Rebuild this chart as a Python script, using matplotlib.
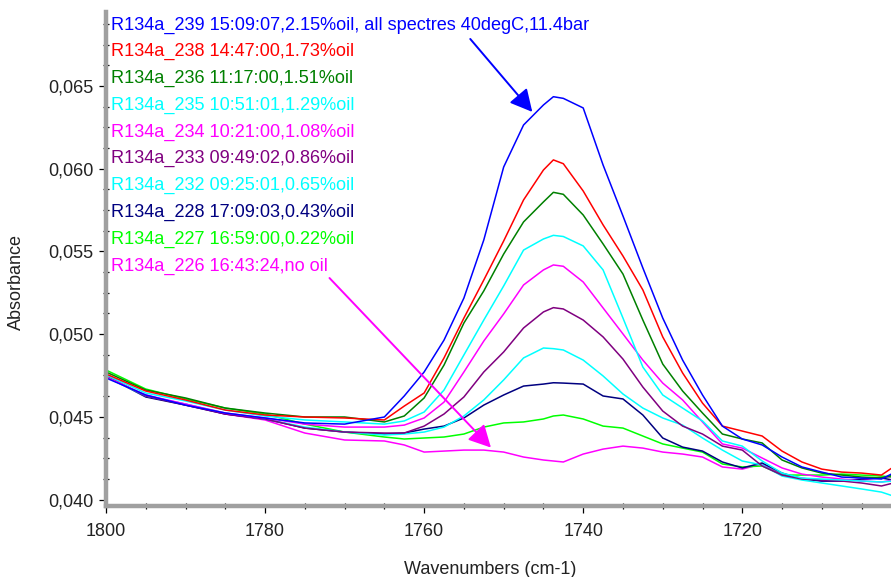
#Load libraries ---------------------------------------------------------------
import matplotlib
matplotlib.use("Agg")
import matplotlib.pyplot as plt
from matplotlib.ticker import MultipleLocator, FuncFormatter

#Data -------------------------------------------------------------------------
wavenumber = [1800, 1795, 1790, 1785, 1780, 1775, 1770, 1765, 1762.5, 1760,
              1757.5, 1755, 1752.5, 1750, 1747.5, 1745, 1743.75, 1742.5, 1740, 1737.5,
              1735, 1732.5, 1730, 1727.5, 1725, 1722.5, 1720, 1717.5, 1715, 1712.5,
              1710, 1707.5, 1705, 1702.5, 1701]

abs_239 = [0.04735, 0.04632, 0.04571, 0.04523, 0.04493, 0.04463, 0.04456, 0.04499, 0.04626, 0.04771,
           0.04964, 0.05218, 0.05569, 0.06010, 0.06264, 0.06385, 0.06435, 0.06425, 0.06367, 0.06022,
           0.05714, 0.05400, 0.05097, 0.04843, 0.04632, 0.04444, 0.04366, 0.04330, 0.04257, 0.04197,
           0.04166, 0.04136, 0.04130, 0.04124, 0.04160]
abs_238 = [0.04759, 0.04656, 0.04602, 0.04541, 0.04511, 0.04499, 0.04493, 0.04481, 0.04565, 0.04644,
           0.04856, 0.05097, 0.05327, 0.05563, 0.05811, 0.05992, 0.06053, 0.06030, 0.05865, 0.05660,
           0.05472, 0.05267, 0.04983, 0.04765, 0.04583, 0.04444, 0.04414, 0.04384, 0.04293, 0.04227,
           0.04184, 0.04166, 0.04160, 0.04148, 0.04197]
abs_236 = [0.04771, 0.04662, 0.04614, 0.04553, 0.04523, 0.04499, 0.04499, 0.04469, 0.04505, 0.04614,
           0.04813, 0.05067, 0.05261, 0.05484, 0.05678, 0.05799, 0.05857, 0.05845, 0.05720, 0.05545,
           0.05363, 0.05085, 0.04819, 0.04656, 0.04523, 0.04396, 0.04366, 0.04342, 0.04239, 0.04191,
           0.04160, 0.04148, 0.04136, 0.04130, 0.04148]
abs_235 = [0.04753, 0.04644, 0.04596, 0.04541, 0.04505, 0.04481, 0.04469, 0.04456, 0.04475, 0.04529,
           0.04662, 0.04874, 0.05085, 0.05291, 0.05508, 0.05575, 0.05597, 0.05590, 0.05533, 0.05388,
           0.05097, 0.04801, 0.04632, 0.04553, 0.04475, 0.04354, 0.04323, 0.04233, 0.04160, 0.04130,
           0.04124, 0.04118, 0.04112, 0.04106, 0.04112]
abs_234 = [0.04741, 0.04632, 0.04577, 0.04523, 0.04493, 0.04456, 0.04438, 0.04438, 0.04450, 0.04493,
           0.04589, 0.04771, 0.04958, 0.05122, 0.05297, 0.05388, 0.05418, 0.05410, 0.05315, 0.05158,
           0.05001, 0.04843, 0.04704, 0.04602, 0.04469, 0.04336, 0.04311, 0.04251, 0.04191, 0.04154,
           0.04136, 0.04124, 0.04112, 0.04106, 0.04118]
abs_233 = [0.04747, 0.04626, 0.04571, 0.04517, 0.04487, 0.04432, 0.04408, 0.04402, 0.04402, 0.04444,
           0.04517, 0.04620, 0.04771, 0.04892, 0.05037, 0.05134, 0.05160, 0.05152, 0.05085, 0.04983,
           0.04849, 0.04680, 0.04535, 0.04444, 0.04396, 0.04323, 0.04299, 0.04203, 0.04148, 0.04124,
           0.04118, 0.04112, 0.04100, 0.04082, 0.04100]
abs_232 = [0.04741, 0.04626, 0.04577, 0.04523, 0.04487, 0.04438, 0.04408, 0.04390, 0.04396, 0.04408,
           0.04438, 0.04505, 0.04602, 0.04723, 0.04856, 0.04916, 0.04912, 0.04904, 0.04843, 0.04747,
           0.04638, 0.04553, 0.04493, 0.04450, 0.04372, 0.04299, 0.04233, 0.04209, 0.04142, 0.04118,
           0.04100, 0.04082, 0.04064, 0.04045, 0.04021]
abs_228 = [0.04747, 0.04620, 0.04571, 0.04517, 0.04487, 0.04432, 0.04408, 0.04396, 0.04402, 0.04426,
           0.04444, 0.04493, 0.04571, 0.04632, 0.04686, 0.04698, 0.04706, 0.04704, 0.04698, 0.04626,
           0.04608, 0.04511, 0.04372, 0.04317, 0.04293, 0.04227, 0.04191, 0.04221, 0.04160, 0.04124,
           0.04112, 0.04112, 0.04124, 0.04130, 0.04118]
abs_227 = [0.04783, 0.04668, 0.04608, 0.04553, 0.04517, 0.04456, 0.04408, 0.04378, 0.04366, 0.04372,
           0.04378, 0.04396, 0.04438, 0.04463, 0.04469, 0.04487, 0.04505, 0.04511, 0.04487, 0.04444,
           0.04432, 0.04384, 0.04336, 0.04311, 0.04287, 0.04215, 0.04197, 0.04203, 0.04148, 0.04148,
           0.04148, 0.04154, 0.04148, 0.04142, 0.04136]
abs_226 = [0.04741, 0.04626, 0.04577, 0.04517, 0.04481, 0.04402, 0.04360, 0.04354, 0.04330, 0.04287,
           0.04293, 0.04299, 0.04299, 0.04287, 0.04257, 0.04239, 0.04233, 0.04227, 0.04275, 0.04305,
           0.04323, 0.04311, 0.04287, 0.04275, 0.04257, 0.04197, 0.04184, 0.04215, 0.04148, 0.04130,
           0.04112, 0.04112, 0.04118, 0.04136, 0.04136]

labels = ["R134a_239 15:09:07,2.15%oil, all spectres 40degC,11.4bar",
          "R134a_238 14:47:00,1.73%oil",
          "R134a_236 11:17:00,1.51%oil",
          "R134a_235 10:51:01,1.29%oil",
          "R134a_234 10:21:00,1.08%oil",
          "R134a_233 09:49:02,0.86%oil",
          "R134a_232 09:25:01,0.65%oil",
          "R134a_228 17:09:03,0.43%oil",
          "R134a_227 16:59:00,0.22%oil",
          "R134a_226 16:43:24,no oil"]
series = [abs_239, abs_238, abs_236, abs_235, abs_234, abs_233, abs_232, abs_228, abs_227, abs_226]
colors = ["#0000FF", "#FF0000", "#008000", "#00FFFF", "#FF00FF",
          "#800080", "#00FFFF", "#000080", "#00FF00", "#FF00FF"]

#Arrow annotations (start, tip) in data units
blue_arrow = [(1754.2, 0.06784), (1746.4, 0.06343)]
pink_arrow = [(1771.9, 0.05339), (1751.6, 0.04314)]

#Plot -------------------------------------------------------------------------
plt.rcParams['font.family'] = ['Liberation Sans', 'DejaVu Sans']
fig = plt.figure(figsize=(8.91, 5.77), dpi=100)
ax = fig.add_axes([106/891, 1 - 506/577, 785/891, 494/577])

for vals, col in zip(series[::-1], colors[::-1]):
    ax.plot(wavenumber, vals, color=col, lw=1.1)

ax.set_xlim(1800, 1701.3)
ax.set_ylim(0.03961, 0.06947)

ax.xaxis.set_major_locator(MultipleLocator(20))
ax.xaxis.set_minor_locator(MultipleLocator(5))
ax.yaxis.set_major_locator(MultipleLocator(0.005))
ax.yaxis.set_minor_locator(MultipleLocator(0.00125))
ax.yaxis.set_major_formatter(FuncFormatter(lambda v, p: f"{v:.3f}".replace(".", ",")))

for s in ['top', 'right']:
    ax.spines[s].set_visible(False)
for s in ['left', 'bottom']:
    ax.spines[s].set_color('#a0a0a0')
    ax.spines[s].set_linewidth(3.2)

ax.tick_params(which='major', direction='out', length=5, width=0.9, color='black',
               labelsize=13, labelcolor='#222222')
ax.tick_params(axis='x', which='major', pad=7)
ax.tick_params(axis='y', which='major', pad=4)
ax.tick_params(which='minor', direction='inout', length=4, width=0.9, color='black')

ax.set_xlabel("Wavenumbers (cm-1)", fontsize=13, color='#222222')
ax.set_ylabel("Absorbance", fontsize=13, color='#222222')
ax.xaxis.set_label_coords(0.49, -0.111)
ax.yaxis.set_label_coords(-0.103, 0.453)

#Coloured legend lines at top left
for i, (lab, col) in enumerate(zip(labels, colors)):
    ax.text(0.0064, (506 - 25 - i * 26.78) / 494, lab, color=col, fontsize=13.1,
            va='center', ha='left', transform=ax.transAxes)

arrow_style = '-|>,head_length=1.35,head_width=0.7'
ax.annotate('', xy=blue_arrow[1], xytext=blue_arrow[0],
            arrowprops=dict(arrowstyle=arrow_style, mutation_scale=10, color='#0000FF',
                            lw=1.4, shrinkA=0, shrinkB=0))
ax.annotate('', xy=pink_arrow[1], xytext=pink_arrow[0],
            arrowprops=dict(arrowstyle=arrow_style, mutation_scale=10, color='#FF00FF',
                            lw=1.4, shrinkA=0, shrinkB=0))

fig.savefig("out.png", dpi=100)
